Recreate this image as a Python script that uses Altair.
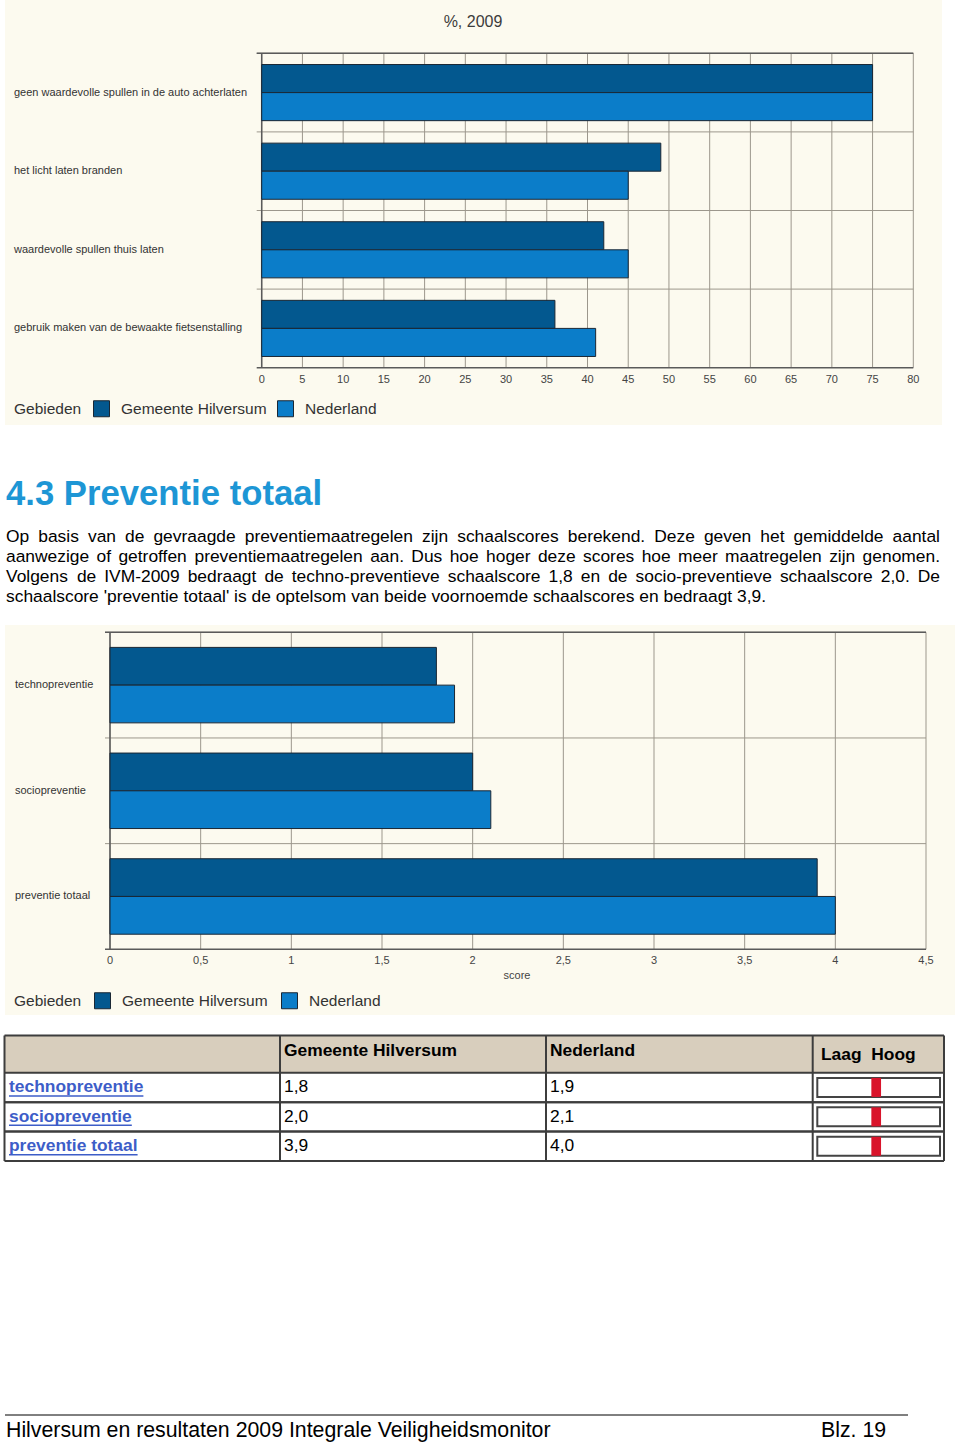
import altair as alt
import pandas as pd

FONT = "Liberation Sans, Arial, Helvetica, sans-serif"

# ---------------- data ----------------
TOP_TITLE = "%, 2009"
TOP_CATEGORIES = [
    "geen waardevolle spullen in de auto achterlaten",
    "het licht laten branden",
    "waardevolle spullen thuis laten",
    "gebruik maken van de bewaakte fietsenstalling",
]
TOP_HILVERSUM = [75, 49, 42, 36]
TOP_NEDERLAND = [75, 45, 45, 41]
TOP_TICKS = [0, 5, 10, 15, 20, 25, 30, 35, 40, 45, 50, 55, 60, 65, 70, 75, 80]

SERIES = ["Gemeente Hilversum", "Nederland"]
LEGEND_TITLE = "Gebieden"

HEADING = "4.3 Preventie totaal"
PARAGRAPH = [
    "Op basis van de gevraagde preventiemaatregelen zijn schaalscores berekend. Deze geven het gemiddelde aantal",
    "aanwezige of getroffen preventiemaatregelen aan. Dus hoe hoger deze scores hoe meer maatregelen zijn genomen.",
    "Volgens de IVM-2009 bedraagt de techno-preventieve schaalscore 1,8 en de socio-preventieve schaalscore 2,0. De",
    "schaalscore 'preventie totaal' is de optelsom van beide voornoemde schaalscores en bedraagt 3,9.",
]

BOTTOM_CATEGORIES = ["technopreventie", "sociopreventie", "preventie totaal"]
BOTTOM_HILVERSUM = [1.8, 2.0, 3.9]
BOTTOM_NEDERLAND = [1.9, 2.1, 4.0]
BOTTOM_TICKS = [0, 0.5, 1, 1.5, 2, 2.5, 3, 3.5, 4, 4.5]
BOTTOM_XTITLE = "score"

TABLE_HEADERS = ["Gemeente Hilversum", "Nederland", "Laag\u00a0 Hoog"]
TABLE_LABELS = ["technopreventie", "sociopreventie", "preventie totaal"]
TABLE_HILVERSUM = ["1,8", "2,0", "3,9"]
TABLE_NEDERLAND = ["1,9", "2,1", "4,0"]
TABLE_INDICATOR = [0.48, 0.48, 0.48]

FOOTER_LEFT = "Hilversum en resultaten 2009 Integrale Veiligheidsmonitor"
FOOTER_RIGHT = "Blz. 19"

# ---------------- styles ----------------
DARK = "#03588F"
LIGHT = "#0B7DC9"
EDGE = "#1A2734"
CREAM = "#FCFAEF"
GRID = "#9C978C"
AXIS = "#5A5A5A"
TXT = "#333333"
HEAD_BLUE = "#1D96D5"
LINK = "#3D5DC8"
TABLE_LINE = "#3D3D3D"
TABLE_HEAD_BG = "#D8CEBD"
RED = "#D9142B"

# Arial / Liberation Sans advance widths (1/1000 em)
ARIAL = {' ': 278, "'": 191, ',': 278, '-': 333, '.': 278, ':': 278,
         'A': 667, 'B': 667, 'C': 722, 'D': 722, 'E': 667, 'F': 611, 'G': 778, 'H': 722,
         'I': 278, 'J': 500, 'K': 667, 'L': 556, 'M': 833, 'N': 722, 'O': 778, 'P': 667,
         'Q': 778, 'R': 722, 'S': 667, 'T': 611, 'U': 722, 'V': 667, 'W': 944, 'X': 667,
         'Y': 667, 'Z': 611,
         'a': 556, 'b': 556, 'c': 500, 'd': 556, 'e': 556, 'f': 278, 'g': 556, 'h': 556,
         'i': 222, 'j': 222, 'k': 500, 'l': 222, 'm': 833, 'n': 556, 'o': 556, 'p': 556,
         'q': 556, 'r': 333, 's': 500, 't': 278, 'u': 556, 'v': 500, 'w': 722, 'x': 500,
         'y': 500, 'z': 500}
for d in "0123456789":
    ARIAL[d] = 556
ARIAL_BOLD = {' ': 278, 'a': 556, 'b': 611, 'c': 556, 'd': 611, 'e': 556, 'f': 333, 'g': 611,
              'h': 611, 'i': 278, 'j': 278, 'k': 556, 'l': 278, 'm': 889, 'n': 611, 'o': 611,
              'p': 611, 'q': 611, 'r': 389, 's': 556, 't': 333, 'u': 611, 'v': 556, 'w': 778,
              'x': 556, 'y': 556, 'z': 500}


def text_width(s, size, table):
    return sum(table.get(ch, 556) for ch in s) * size / 1000.0


def fmt(v):
    return f"{v:g}".replace(".", ",")


def one(text=""):
    return pd.DataFrame({"t": [text]})


def bar_panel(cats, hil, ned, ticks, xdomain, xrange, yrange, panel, height,
              title_text, title_xy, tick_y, label_x, legend_xy, legend_gaps,
              xtitle=None, xtitle_xy=None):
    df = pd.DataFrame({
        "cat": cats + cats,
        "series": [SERIES[0]] * len(cats) + [SERIES[1]] * len(cats),
        "value": hil + ned,
    })
    tdf = pd.DataFrame({"tick": ticks, "label": [fmt(t) for t in ticks]})
    cdf = pd.DataFrame({"cat": cats})
    xs = alt.Scale(domain=xdomain, range=xrange, nice=False, zero=False)
    ys = alt.Scale(domain=cats, range=yrange, paddingInner=0, paddingOuter=0)
    x0, x1 = xrange
    y0, y1 = yrange

    bg = alt.Chart(one()).mark_rect(color=CREAM).encode(
        x=alt.value(panel[0]), x2=alt.value(panel[1]),
        y=alt.value(panel[2]), y2=alt.value(panel[3]))
    vgrid = alt.Chart(tdf).mark_rule(color=GRID, strokeWidth=1).encode(
        x=alt.X("tick:Q", scale=xs, axis=None),
        y=alt.value(y0), y2=alt.value(y1))
    hgrid = alt.Chart(cdf).mark_rule(color=GRID, strokeWidth=1).encode(
        y=alt.Y("cat:N", scale=ys, axis=None, bandPosition=0),
        x=alt.value(x0 - 5), x2=alt.value(x1))
    frame_top = alt.Chart(one()).mark_rule(color=AXIS, strokeWidth=1.5).encode(
        y=alt.value(y0), x=alt.value(x0 - 5), x2=alt.value(x1))
    frame_bot = alt.Chart(one()).mark_rule(color=AXIS, strokeWidth=1.5).encode(
        y=alt.value(y1), x=alt.value(x0 - 5), x2=alt.value(x1))
    frame_left = alt.Chart(one()).mark_rule(color=AXIS, strokeWidth=1.5).encode(
        x=alt.value(x0), y=alt.value(y0), y2=alt.value(y1))
    bars = alt.Chart(df).mark_bar(stroke=EDGE, strokeWidth=1, opacity=1).encode(
        x=alt.X("value:Q", scale=xs, axis=None),
        y=alt.Y("cat:N", scale=ys, axis=None),
        yOffset=alt.YOffset("series:N", scale=alt.Scale(domain=SERIES, paddingInner=0, paddingOuter=0.4)),
        color=alt.Color("series:N",
                        scale=alt.Scale(domain=SERIES, range=[DARK, LIGHT]),
                        legend=alt.Legend(
                            title=LEGEND_TITLE, orient="none",
                            legendX=legend_xy[0], legendY=legend_xy[1],
                            direction="horizontal", titleOrient="left",
                            titleFont=FONT, labelFont=FONT,
                            titleFontSize=15.5, labelFontSize=15.5,
                            titleFontWeight="normal", titleColor=TXT, labelColor=TXT,
                            symbolType="square", symbolSize=256,
                            symbolStrokeColor=EDGE, symbolStrokeWidth=1, symbolOpacity=1,
                            titlePadding=legend_gaps[0], labelOffset=legend_gaps[1],
                            columnPadding=legend_gaps[2],
                            labelLimit=400, titleLimit=400)))
    tick_labels = alt.Chart(tdf).mark_text(fontSize=11, color="#444444", baseline="middle",
                                           align="center", font=FONT).encode(
        x=alt.X("tick:Q", scale=xs, axis=None), y=alt.value(tick_y), text="label:N")
    cat_labels = alt.Chart(cdf).mark_text(fontSize=11, color=TXT, baseline="middle",
                                          align="left", font=FONT).encode(
        x=alt.value(label_x), y=alt.Y("cat:N", scale=ys, axis=None), text="cat:N")
    layers = [bg, vgrid, hgrid, frame_top, frame_bot, frame_left, bars, tick_labels, cat_labels]
    if title_text:
        layers.append(alt.Chart(one(title_text)).mark_text(
            fontSize=16, color="#3C3C3C", baseline="middle", align="center", font=FONT).encode(
            x=alt.value(title_xy[0]), y=alt.value(title_xy[1]), text="t:N"))
    if xtitle:
        layers.append(alt.Chart(one(xtitle)).mark_text(
            fontSize=11, color="#444444", baseline="middle", align="center", font=FONT).encode(
            x=alt.value(xtitle_xy[0]), y=alt.value(xtitle_xy[1]), text="t:N"))
    return alt.layer(*layers).properties(width=960, height=height)


# ---------------- section 1: top chart (page y 0..430) ----------------
s1 = bar_panel(TOP_CATEGORIES, TOP_HILVERSUM, TOP_NEDERLAND, TOP_TICKS,
               [0, 80], [261.7, 913.3], [53.3, 367.7], [5, 942, 0, 425], 430,
               TOP_TITLE, (473, 22), 380, 14, (14, 400), (11, 11, 8))

# ---------------- section 2: heading + paragraph (page y 430..625) ----------------
PARA_SIZE = 17.4
PARA_LEFT, PARA_RIGHT = 6, 940
PARA_BASE, PARA_LEAD = 111.5, 20
rows = []
for i, line in enumerate(PARAGRAPH):
    words = line.split(" ")
    widths = [text_width(w, PARA_SIZE, ARIAL) for w in words]
    if i < len(PARAGRAPH) - 1 and len(words) > 1:
        gap = (PARA_RIGHT - PARA_LEFT - sum(widths)) / (len(words) - 1)
    else:
        gap = text_width(" ", PARA_SIZE, ARIAL)
    x = PARA_LEFT
    for w, wd in zip(words, widths):
        rows.append({"word": w, "x": x, "y": PARA_BASE + i * PARA_LEAD})
        x += wd + gap
para_df = pd.DataFrame(rows)

heading = alt.Chart(one(HEADING)).mark_text(
    fontSize=34.7, fontWeight="bold", color=HEAD_BLUE, align="left", baseline="alphabetic",
    font=FONT).encode(x=alt.value(6), y=alt.value(75), text="t:N")
para = alt.Chart(para_df).mark_text(
    fontSize=PARA_SIZE, color="black", align="left", baseline="alphabetic", font=FONT).encode(
    x=alt.X("x:Q", scale=None, axis=None), y=alt.Y("y:Q", scale=None, axis=None), text="word:N")
s2 = alt.layer(heading, para).properties(width=960, height=195)

# ---------------- section 3: bottom chart (page y 625..1020) ----------------
s3 = bar_panel(BOTTOM_CATEGORIES, BOTTOM_HILVERSUM, BOTTOM_NEDERLAND, BOTTOM_TICKS,
               [0, 4.5], [110, 926], [7.3, 324.3], [5, 955, 0, 390], 395,
               None, None, 335.7, 15, (14, 367), (12, 11, 11), BOTTOM_XTITLE, (517, 351))

# ---------------- section 4: table (page y 1020..1175) ----------------
TS = 17.4
tdf = pd.DataFrame({
    "row": TABLE_LABELS,
    "hil": TABLE_HILVERSUM,
    "ned": TABLE_NEDERLAND,
    "ind": TABLE_INDICATOR,
    "mid": [0.5] * len(TABLE_LABELS),
    "ux": [9] * len(TABLE_LABELS),
    "ux2": [9 + text_width(l, TS, ARIAL_BOLD) for l in TABLE_LABELS],
})
rys = alt.Scale(domain=TABLE_LABELS, range=[52.7, 141], paddingInner=0, paddingOuter=0)
ixs = alt.Scale(domain=[0, 1], range=[817.3, 940], nice=False, zero=False)
T_TOP, T_BOT = 15.5, 141
COLS = [4.5, 280, 546, 812.7, 944]

head_bg = alt.Chart(one()).mark_rect(color=TABLE_HEAD_BG).encode(
    x=alt.value(COLS[0]), x2=alt.value(COLS[-1]), y=alt.value(T_TOP), y2=alt.value(52.7))
row_top_lines = alt.Chart(tdf).mark_rule(color=TABLE_LINE, strokeWidth=2).encode(
    y=alt.Y("row:N", scale=rys, axis=None, bandPosition=0),
    x=alt.value(COLS[0]), x2=alt.value(COLS[-1]))
row_bot_lines = alt.Chart(tdf).mark_rule(color=TABLE_LINE, strokeWidth=2).encode(
    y=alt.Y("row:N", scale=rys, axis=None, bandPosition=1),
    x=alt.value(COLS[0]), x2=alt.value(COLS[-1]))
top_line = alt.Chart(one()).mark_rule(color=TABLE_LINE, strokeWidth=2).encode(
    y=alt.value(T_TOP), x=alt.value(COLS[0]), x2=alt.value(COLS[-1]))
col_layers = [alt.Chart(one()).mark_rule(color=TABLE_LINE, strokeWidth=2).encode(
    x=alt.value(c), y=alt.value(T_TOP), y2=alt.value(T_BOT)) for c in COLS]
head_texts = [
    alt.Chart(one(TABLE_HEADERS[0])).mark_text(fontSize=TS, fontWeight="bold", color="black",
        align="left", baseline="middle", font=FONT).encode(
        x=alt.value(284), y=alt.value(31), text="t:N"),
    alt.Chart(one(TABLE_HEADERS[1])).mark_text(fontSize=TS, fontWeight="bold", color="black",
        align="left", baseline="middle", font=FONT).encode(
        x=alt.value(550), y=alt.value(31), text="t:N"),
    alt.Chart(one(TABLE_HEADERS[2])).mark_text(fontSize=TS, fontWeight="bold", color="black",
        align="left", baseline="middle", font=FONT).encode(
        x=alt.value(821), y=alt.value(35), text="t:N"),
]
row_labels = alt.Chart(tdf).mark_text(fontSize=TS, fontWeight="bold", color=LINK, align="left",
                                      baseline="middle", font=FONT).encode(
    x=alt.value(9), y=alt.Y("row:N", scale=rys, axis=None), text="row:N")
underline = alt.Chart(tdf).mark_rule(color=LINK, strokeWidth=1.5, yOffset=8.5).encode(
    x=alt.X("ux:Q", scale=None, axis=None), x2="ux2:Q",
    y=alt.Y("row:N", scale=rys, axis=None))
hil_vals = alt.Chart(tdf).mark_text(fontSize=TS, color="black", align="left",
                                    baseline="middle", font=FONT).encode(
    x=alt.value(284), y=alt.Y("row:N", scale=rys, axis=None), text="hil:N")
ned_vals = alt.Chart(tdf).mark_text(fontSize=TS, color="black", align="left",
                                    baseline="middle", font=FONT).encode(
    x=alt.value(550), y=alt.Y("row:N", scale=rys, axis=None), text="ned:N")
boxes = alt.Chart(tdf).mark_tick(thickness=122.7, size=19, color="white", stroke="#444444",
                                 strokeWidth=2, opacity=1).encode(
    x=alt.X("mid:Q", scale=ixs, axis=None), y=alt.Y("row:N", scale=rys, axis=None))
markers = alt.Chart(tdf).mark_tick(thickness=9.7, size=19, color=RED, opacity=1).encode(
    x=alt.X("ind:Q", scale=ixs, axis=None), y=alt.Y("row:N", scale=rys, axis=None))

s4 = alt.layer(head_bg, boxes, markers, row_labels, underline, hil_vals, ned_vals,
               *head_texts, row_top_lines, row_bot_lines, top_line, *col_layers
               ).resolve_scale(x="independent").properties(width=960, height=155)

# ---------------- section 5: footer (page y 1175..1445) ----------------
foot_rule = alt.Chart(one()).mark_rule(color="black", strokeWidth=1).encode(
    x=alt.value(5), x2=alt.value(908), y=alt.value(240))
foot_l = alt.Chart(one(FOOTER_LEFT)).mark_text(fontSize=21.3, color="black", align="left",
                                              baseline="alphabetic", font=FONT).encode(
    x=alt.value(6), y=alt.value(262), text="t:N")
foot_r = alt.Chart(one(FOOTER_RIGHT)).mark_text(fontSize=21.3, color="black", align="left",
                                               baseline="alphabetic", font=FONT).encode(
    x=alt.value(821), y=alt.value(262), text="t:N")
s5 = alt.layer(foot_rule, foot_l, foot_r).properties(width=960, height=270)

chart = alt.vconcat(s1, s2, s3, s4, s5, spacing=0).resolve_scale(
    color="independent", yOffset="independent").resolve_legend(color="independent").properties(
    padding=0, background="white").configure(font=FONT).configure_view(
    stroke="transparent", strokeWidth=0)

chart.save("out.html", embed_options={"renderer": "svg", "actions": False})
